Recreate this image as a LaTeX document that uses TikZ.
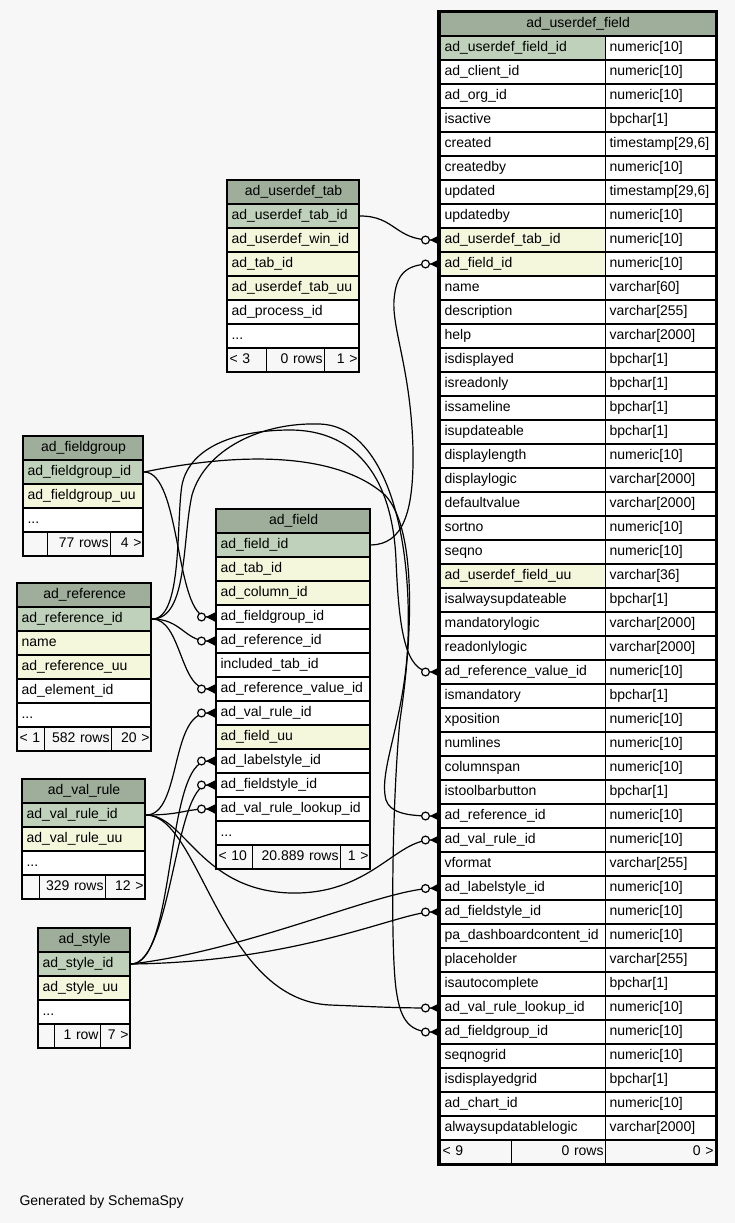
\documentclass[tikz,border=0pt]{standalone}
\usepackage{fontspec}
\setmainfont{Liberation Sans}
\usetikzlibrary{arrows.meta}
\definecolor{bgcol}{HTML}{F7F7F7}
\definecolor{headcol}{HTML}{9EAE9A}
\definecolor{pkcol}{HTML}{BFD1BA}
\definecolor{fkcol}{HTML}{F4F7DC}
\newcommand{\tblfont}{\fontsize{14}{16}\selectfont}
\tikzset{
  cell/.style={draw, line width=1.2pt, rectangle, anchor=west, minimum height=24pt,
    inner xsep=4pt, inner ysep=0pt, text height=10.5pt, text depth=3pt,
    text width=#1, align=left, font=\tblfont},
  headcell/.style={cell=#1, fill=headcol, align=center},
  footcell/.style={cell=#1, fill=bgcol, inner xsep=2pt},
  tblframe/.style={draw, line width=2pt},
  fklink/.style={line width=1.2pt,
    -{Circle[fill=bgcol, length=9pt, line width=1.2pt] Triangle[reversed, length=10pt, width=10pt]}}
}
\begin{document}
\catcode`\_=12
\begin{tikzpicture}[x=1pt, y=-1pt]
  \useasboundingbox[fill=bgcol] (0,0) rectangle (735,1223);

  % ad_userdef_field
  \node[headcell=267pt] (f-title) at (440,24) {ad_userdef_field};
  \foreach \nm/\ty/\rowfill [count=\i] in {
      ad_userdef_field_id/numeric[10]/pkcol, ad_client_id/numeric[10]/white,
      ad_org_id/numeric[10]/white, isactive/bpchar[1]/white,
      created/{timestamp[29,6]}/white, createdby/numeric[10]/white,
      updated/{timestamp[29,6]}/white, updatedby/numeric[10]/white,
      ad_userdef_tab_id/numeric[10]/fkcol, ad_field_id/numeric[10]/fkcol,
      name/varchar[60]/white, description/varchar[255]/white,
      help/varchar[2000]/white, isdisplayed/bpchar[1]/white,
      isreadonly/bpchar[1]/white, issameline/bpchar[1]/white,
      isupdateable/bpchar[1]/white, displaylength/numeric[10]/white,
      displaylogic/varchar[2000]/white, defaultvalue/varchar[2000]/white,
      sortno/numeric[10]/white, seqno/numeric[10]/white,
      ad_userdef_field_uu/varchar[36]/fkcol, isalwaysupdateable/bpchar[1]/white,
      mandatorylogic/varchar[2000]/white, readonlylogic/varchar[2000]/white,
      ad_reference_value_id/numeric[10]/white, ismandatory/bpchar[1]/white,
      xposition/numeric[10]/white, numlines/numeric[10]/white,
      columnspan/numeric[10]/white, istoolbarbutton/bpchar[1]/white,
      ad_reference_id/numeric[10]/white, ad_val_rule_id/numeric[10]/white,
      vformat/varchar[255]/white, ad_labelstyle_id/numeric[10]/white,
      ad_fieldstyle_id/numeric[10]/white, pa_dashboardcontent_id/numeric[10]/white,
      placeholder/varchar[255]/white, isautocomplete/bpchar[1]/white,
      ad_val_rule_lookup_id/numeric[10]/white, ad_fieldgroup_id/numeric[10]/white,
      seqnogrid/numeric[10]/white, isdisplayedgrid/bpchar[1]/white,
      ad_chart_id/numeric[10]/white, alwaysupdatablelogic/varchar[2000]/white} {
    \node[cell=157pt, fill=\rowfill] (f-\nm) at (440,{24+24*\i}) {\nm};
    \node[cell=102pt, fill=white] (ft-\nm) at (605,{24+24*\i}) {\ty};
  }
  \node[footcell=67pt] (f-foot1) at (440,1152) {< 9};
  \node[footcell=90pt, align=right] (f-foot2) at (511,1152) {0 rows};
  \node[footcell=106pt, align=right] (f-foot3) at (605,1152) {0 >};
  \draw[line width=3pt] (438.5,12) rectangle (716.5,1164);

  % ad_userdef_tab
  \node[headcell=124pt] (tab-title) at (227,192) {ad_userdef_tab};
  \foreach \nm/\rowfill [count=\i] in {ad_userdef_tab_id/pkcol, ad_userdef_win_id/fkcol,
      ad_tab_id/fkcol, ad_userdef_tab_uu/fkcol, ad_process_id/white}
    \node[cell=124pt, fill=\rowfill] (tab-\nm) at (227,{192+24*\i}) {\nm};
  \node[cell=124pt, fill=white] (tab-etc) at (227,336) {...};
  \node[footcell=35pt] (tab-foot1) at (227,360) {< 3};
  \node[footcell=54pt, align=right] (tab-foot2) at (266,360) {0 rows};
  \node[footcell=31pt, align=right] (tab-foot3) at (324,360) {1 >};
  \draw[tblframe] (227,180) rectangle (359,372);

  % ad_fieldgroup
  \node[headcell=112pt] (fg-title) at (23,448) {ad_fieldgroup};
  \foreach \nm/\rowfill [count=\i] in {ad_fieldgroup_id/pkcol, ad_fieldgroup_uu/fkcol}
    \node[cell=112pt, fill=\rowfill] (fg-\nm) at (23,{448+24*\i}) {\nm};
  \node[cell=112pt, fill=white] (fg-etc) at (23,520) {...};
  \node[footcell=20pt] (fg-foot1) at (23,544) {};
  \node[footcell=59pt, align=right] (fg-foot2) at (47,544) {77 rows};
  \node[footcell=29pt, align=right] (fg-foot3) at (110,544) {4 >};
  \draw[tblframe] (23,436) rectangle (143,556);

  % ad_reference
  \node[headcell=126pt] (ref-title) at (17,595) {ad_reference};
  \foreach \nm/\rowfill [count=\i] in {ad_reference_id/pkcol, name/fkcol,
      ad_reference_uu/fkcol, ad_element_id/white}
    \node[cell=126pt, fill=\rowfill] (ref-\nm) at (17,{595+24*\i}) {\nm};
  \node[cell=126pt, fill=white] (ref-etc) at (17,715) {...};
  \node[footcell=23pt] (ref-foot1) at (17,739) {< 1};
  \node[footcell=63pt, align=right] (ref-foot2) at (44,739) {582 rows};
  \node[footcell=36pt, align=right] (ref-foot3) at (111,739) {20 >};
  \draw[tblframe] (17,583) rectangle (151,751);

  % ad_field
  \node[headcell=146pt] (fld-title) at (216,521) {ad_field};
  \foreach \nm/\rowfill [count=\i] in {ad_field_id/pkcol, ad_tab_id/fkcol, ad_column_id/fkcol,
      ad_fieldgroup_id/white, ad_reference_id/white, included_tab_id/white,
      ad_reference_value_id/white, ad_val_rule_id/white, ad_field_uu/fkcol,
      ad_labelstyle_id/white, ad_fieldstyle_id/white, ad_val_rule_lookup_id/white}
    \node[cell=146pt, fill=\rowfill] (fld-\nm) at (216,{521+24*\i}) {\nm};
  \node[cell=146pt, fill=white] (fld-etc) at (216,833) {...};
  \node[footcell=32pt] (fld-foot1) at (216,857) {< 10};
  \node[footcell=84pt, align=right] (fld-foot2) at (252,857) {20.889 rows};
  \node[footcell=26pt, align=right] (fld-foot3) at (340,857) {1 >};
  \draw[tblframe] (216,509) rectangle (370,869);

  % ad_val_rule
  \node[headcell=115pt] (vr-title) at (22,791) {ad_val_rule};
  \foreach \nm/\rowfill [count=\i] in {ad_val_rule_id/pkcol, ad_val_rule_uu/fkcol}
    \node[cell=115pt, fill=\rowfill] (vr-\nm) at (22,{791+24*\i}) {\nm};
  \node[cell=115pt, fill=white] (vr-etc) at (22,863) {...};
  \node[footcell=13pt] (vr-foot1) at (22,887) {};
  \node[footcell=62pt, align=right] (vr-foot2) at (39,887) {329 rows};
  \node[footcell=36pt, align=right] (vr-foot3) at (105,887) {12 >};
  \draw[tblframe] (22,779) rectangle (145,899);

  % ad_style
  \node[headcell=84pt] (sty-title) at (38,940) {ad_style};
  \foreach \nm/\rowfill [count=\i] in {ad_style_id/pkcol, ad_style_uu/fkcol}
    \node[cell=84pt, fill=\rowfill] (sty-\nm) at (38,{940+24*\i}) {\nm};
  \node[cell=84pt, fill=white] (sty-etc) at (38,1012) {...};
  \node[footcell=13pt] (sty-foot1) at (38,1036) {};
  \node[footcell=42pt, align=right] (sty-foot2) at (54,1036) {1 row};
  \node[footcell=26pt, align=right] (sty-foot3) at (100,1036) {7 >};
  \draw[tblframe] (38,928) rectangle (130,1048);

  \node[anchor=west, font=\tblfont] (credit) at (16,1202) {Generated by SchemaSpy};

  % Edges
  \draw[fklink] (tab-ad_userdef_tab_id.east) .. controls +(35,0) and +(-45,0) .. (f-ad_userdef_tab_id.west);
  \draw[fklink] (fld-ad_field_id.east) .. controls (402,544) and (414,515) .. (413,450)
    .. controls (411,370) and (392,330) .. (394,300)
    .. controls (396,275) and (405,264) .. (f-ad_field_id.west);
  \draw[fklink] (fg-ad_fieldgroup_id.east) .. controls +(37,0) and +(-41,0) .. (fld-ad_fieldgroup_id.west);
  \draw[fklink] (fg-ad_fieldgroup_id.east) .. controls (250,450) and (340,455) .. (385,495)
    .. controls (418,530) and (412,640) .. (400,720)
    .. controls (392,800) and (390,960) .. (397,995)
    .. controls (401,1020) and (410,1032) .. (f-ad_fieldgroup_id.west);
  \draw[fklink] (ref-ad_reference_id.east) .. controls +(29,0) and +(-31,0) .. (fld-ad_reference_id.west);
  \draw[fklink] (ref-ad_reference_id.east) .. controls +(29,0) and +(-36,0) .. (fld-ad_reference_value_id.west);
  \draw[fklink] (ref-ad_reference_id.east) .. controls (183,619) and (176,520) .. (182,485)
    .. controls (190,445) and (240,430) .. (290,430)
    .. controls (350,430) and (392,470) .. (396,560)
    .. controls (399,630) and (405,672) .. (f-ad_reference_value_id.west);
  \draw[fklink] (ref-ad_reference_id.east) .. controls (188,619) and (182,540) .. (192,495)
    .. controls (205,450) and (260,422) .. (320,424)
    .. controls (380,426) and (412,520) .. (408,640)
    .. controls (405,720) and (378,770) .. (386,800)
    .. controls (390,812) and (405,816) .. (f-ad_reference_id.west);
  \draw[fklink] (vr-ad_val_rule_id.east) .. controls +(35,0) and +(-46,0) .. (fld-ad_val_rule_id.west);
  \draw[fklink] (vr-ad_val_rule_id.east) .. controls +(35,0) and +(-31,0) .. (fld-ad_val_rule_lookup_id.west);
  \draw[fklink] (vr-ad_val_rule_id.east) .. controls (185,815) and (200,890) .. (290,893)
    .. controls (370,895) and (395,840) .. (f-ad_val_rule_id.west);
  \draw[fklink] (vr-ad_val_rule_id.east) .. controls (200,815) and (220,1000) .. (330,1005)
    .. controls (380,1007) and (400,1008) .. (f-ad_val_rule_lookup_id.west);
  \draw[fklink] (sty-ad_style_id.east) .. controls +(45,0) and +(-51,0) .. (fld-ad_labelstyle_id.west);
  \draw[fklink] (sty-ad_style_id.east) .. controls +(40,0) and +(-41,0) .. (fld-ad_fieldstyle_id.west);
  \draw[fklink] (sty-ad_style_id.east) .. controls (250,950) and (380,890) .. (f-ad_labelstyle_id.west);
  \draw[fklink] (sty-ad_style_id.east) .. controls (300,962) and (400,912) .. (f-ad_fieldstyle_id.west);
\end{tikzpicture}
\end{document}
